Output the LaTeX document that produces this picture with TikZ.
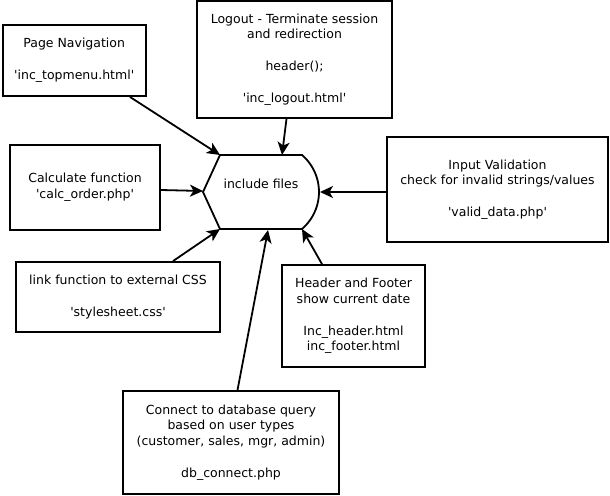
\documentclass[tikz,border=0pt]{standalone}
\usepackage{fontspec}
\setmainfont{DejaVu Sans}
\usetikzlibrary{arrows.meta}
\newcommand{\sq}{\textquotesingle}
\begin{document}
\begin{tikzpicture}[x=1pt,y=-1pt,
  box/.style={draw=black, line width=1.8pt, align=center, inner sep=0pt, font=\fontsize{12.5}{15.7}\selectfont},
  arr/.style={line width=1.8pt, -{Stealth[length=13pt,width=12pt,inset=3.5pt]}},
  lbl/.style={font=\fontsize{12.5}{15.7}\selectfont, inner sep=0pt}]
\useasboundingbox[fill=white] (0,0) rectangle (610,495);

% include files shape
\draw[line width=1.8pt] (203,192) -- (220,155) -- (302,155)
  arc[start angle=49.3, end angle=-49.3, radius=48.8pt] -- (220,229) -- cycle;
\node[lbl] (inc) at (261,184) {include files};
\coordinate (incL) at (203,191);
\coordinate (incTL) at (220,155);
\coordinate (incT) at (282,155);
\coordinate (incBL) at (220,229);
\coordinate (incB) at (268,230);
\coordinate (incBR) at (302,229);
\coordinate (incR) at (320,192);

% boxes
\node[box, minimum width=143pt, minimum height=71pt] (nav) at (74.2,60.5)
  {Page Navigation\\[16pt]\sq inc\_topmenu.html\sq};
\node[box, minimum width=195pt, minimum height=117pt] (logout) at (294.5,59.5)
  {Logout - Terminate session\\and redirection\\[16pt]header();\\[16pt]\sq inc\_logout.html\sq};
\node[box, minimum width=150pt, minimum height=85pt] (calc) at (85,187.5)
  {Calculate function\\\sq calc\_order.php\sq};
\node[box, minimum width=204pt, minimum height=70pt] (link) at (118,297)
  {link function to external CSS\\[16pt]\sq stylesheet.css\sq};
\node[box, minimum width=221pt, minimum height=105pt] (input) at (497.5,189.5)
  {Input Validation\\check for invalid strings/values\\[16pt]\sq valid\_data.php\sq};
\node[box, minimum width=143pt, minimum height=102pt] (hf) at (353.5,316)
  {Header and Footer\\show current date\\[16pt]Inc\_header.html\\inc\_footer.html};
\node[box, minimum width=216pt, minimum height=103pt] (db) at (231,442.5)
  {Connect to database query\\based on user types\\(customer, sales, mgr, admin)\\[16pt]db\_connect.php};

% connectors
\draw[arr] ([xshift=-16.7pt]nav.south east) -- (incTL);
\draw[arr] ([xshift=-8pt]logout.south) -- (incT);
\draw[arr] ([yshift=-2.5pt]calc.east) -- (incL);
\draw[arr] ([xshift=55pt]link.north) -- (incBL);
\draw[arr] ([xshift=6.5pt]db.north) -- (incB);
\draw[arr] ([yshift=-2.5pt]input.west) -- (incR);
\draw[arr] ([xshift=-31.5pt]hf.north) -- (incBR);
\end{tikzpicture}
\end{document}
